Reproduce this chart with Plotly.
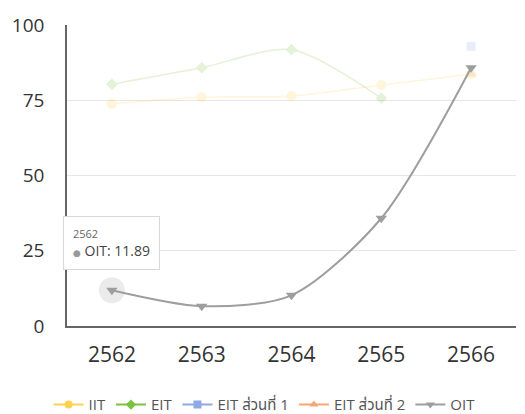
import plotly.graph_objects as go

years = ["2562", "2563", "2564", "2565", "2566"]
iit = [73.8, 76.0, 76.4, 80.1, 83.6]
eit = [80.3, 85.8, 91.8, 75.7, None]
eit_p1 = [None, None, None, None, 92.9]
eit_p2 = [None, None, None, None, 83.7]
oit = [11.89, 6.6, 10.2, 35.8, 85.8]
series_names = ["IIT", "EIT", "EIT ส่วนที่ 1", "EIT ส่วนที่ 2", "OIT"]
y_ticks = [0, 25, 50, 75, 100]

colors = ["#fdd250", "#7cc242", "#8ea9e3", "#f4a77a", "#9e9e9e"]
symbols = ["circle", "diamond", "square", "triangle-up", "triangle-down"]
sizes = [10, 9, 9, 10, 10]
data = [iit, eit, eit_p1, eit_p2, oit]

FONT = "Open Sans, Noto Sans Thai, DejaVu Sans, sans-serif"
fig = go.Figure()

# highlight halo behind hovered OIT point
fig.add_trace(go.Scatter(x=[years[0]], y=[oit[0]], mode="markers",
                         marker=dict(size=26, color="rgba(190,190,190,0.3)"),
                         showlegend=False, hoverinfo="skip"))

for i, (name, vals) in enumerate(zip(series_names, data)):
    faded = i < 4
    fig.add_trace(go.Scatter(
        x=years, y=vals, mode="lines+markers", name=name,
        line=dict(color=colors[i], width=2 if not faded else 1.5, shape="spline", smoothing=0.8),
        marker=dict(symbol=symbols[i], size=sizes[i], color=colors[i]),
        opacity=0.2 if faded else 1.0,
        showlegend=False, connectgaps=False))

# legend entries (full colour)
for i, name in enumerate(series_names):
    fig.add_trace(go.Scatter(
        x=[None], y=[None], mode="lines+markers", name=name,
        line=dict(color=colors[i], width=2),
        marker=dict(symbol=symbols[i], size=8, color=colors[i])))

# tooltip (category index of the hovered year)
xi = years.index("2562")
fig.add_annotation(
    x=xi, y=oit[0], xref="x", yref="y",
    text=("<span style='font-size:11px;color:#666'>" + years[0] + "</span><br>"
          "<span style='font-size:9px;color:#999'>●</span> " + series_names[4] + ": " + f"{oit[0]:.2f}"),
    showarrow=False, xanchor="center", yanchor="bottom", yshift=20,
    align="left", bgcolor="white", bordercolor="#d8d8d8", borderwidth=1, borderpad=9,
    font=dict(family=FONT, size=14, color="#444"))

fig.update_layout(
    width=525, height=414,
    margin=dict(l=59, r=17, t=17, b=96, autoexpand=False),
    paper_bgcolor="white", plot_bgcolor="white",
    font=dict(family=FONT, color="#333"),
    showlegend=True,
    legend=dict(orientation="h", x=0.44, xanchor="center", y=-0.262, yanchor="middle",
                font=dict(size=15, color="#555"), itemwidth=30),
    xaxis=dict(type="category", range=[-0.5, 4.5], showgrid=False, automargin=False,
               showline=True, linecolor="#666", linewidth=1.5,
               ticks="", tickfont=dict(size=21, color="#333"), ticklabelstandoff=9),
    yaxis=dict(range=[0, 100], tickvals=y_ticks, showgrid=True, gridcolor="#e6e6e6",
               showline=True, linecolor="#666", linewidth=1.5, zeroline=False, automargin=False,
               ticks="", tickfont=dict(size=19, color="#333"), ticklabelstandoff=17),
)

fig.write_html("out.html")
